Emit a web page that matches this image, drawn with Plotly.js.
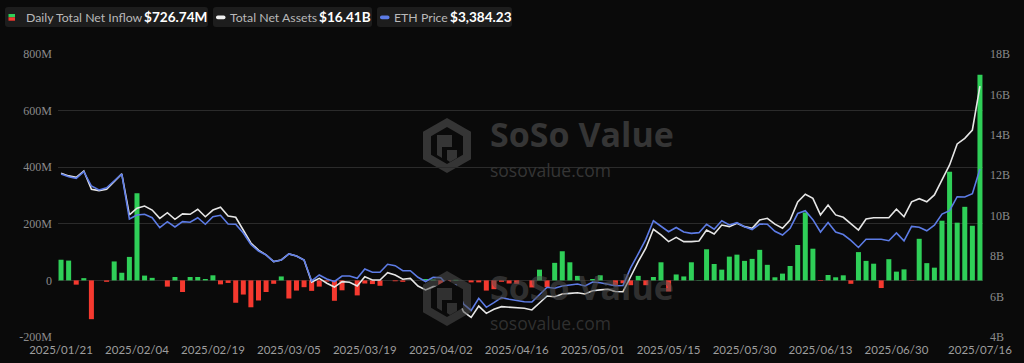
<!DOCTYPE html>
<html><head><meta charset="utf-8">
<script src="https://cdn.plot.ly/plotly-3.0.1.min.js"></script>
<style>html,body{margin:0;padding:0;background:#0a0a0a;}#chart{width:1024px;height:363px;}</style>
</head><body><div id="chart"></div>
<script>
const dates = [
 '2025/01/21','2025/01/22','2025/01/23','2025/01/24','2025/01/27','2025/01/28','2025/01/29','2025/01/30','2025/01/31',
 '2025/02/03','2025/02/04','2025/02/05','2025/02/06','2025/02/07','2025/02/10','2025/02/11','2025/02/12','2025/02/13','2025/02/14',
 '2025/02/18','2025/02/19','2025/02/20','2025/02/21','2025/02/24','2025/02/25','2025/02/26','2025/02/27','2025/02/28',
 '2025/03/03','2025/03/04','2025/03/05','2025/03/06','2025/03/07','2025/03/10','2025/03/11','2025/03/12','2025/03/13','2025/03/14',
 '2025/03/17','2025/03/18','2025/03/19','2025/03/20','2025/03/21','2025/03/24','2025/03/25','2025/03/26','2025/03/27','2025/03/28','2025/03/31',
 '2025/04/01','2025/04/02','2025/04/03','2025/04/04','2025/04/07','2025/04/08','2025/04/09','2025/04/10','2025/04/11',
 '2025/04/14','2025/04/15','2025/04/16','2025/04/17','2025/04/21','2025/04/22','2025/04/23','2025/04/24','2025/04/25',
 '2025/04/28','2025/04/29','2025/04/30','2025/05/01','2025/05/02','2025/05/05','2025/05/06','2025/05/07','2025/05/08','2025/05/09',
 '2025/05/12','2025/05/13','2025/05/14','2025/05/15','2025/05/16','2025/05/19','2025/05/20','2025/05/21','2025/05/22','2025/05/23',
 '2025/05/27','2025/05/28','2025/05/29','2025/05/30','2025/06/02','2025/06/03','2025/06/04','2025/06/05','2025/06/06',
 '2025/06/09','2025/06/10','2025/06/11','2025/06/12','2025/06/13','2025/06/16','2025/06/17','2025/06/18','2025/06/20',
 '2025/06/23','2025/06/24','2025/06/25','2025/06/26','2025/06/27','2025/06/30','2025/07/01','2025/07/02','2025/07/03',
 '2025/07/07','2025/07/08','2025/07/09','2025/07/10','2025/07/11','2025/07/14','2025/07/15','2025/07/16'
];
// Daily total net inflow, million USD
const netInflow = [
 73,70,-15,8,-137,0,-5,67,27,83,
 308,17,9,0,-22,12,-41,12,12,5,
 18,-14,-9,-79,-50,-95,-71,-41,-12,14,
 -64,-36,-24,-37,-22,-4,-72,-35,0,-53,
 -11,-13,-19,0,-3,-5,0,0,5,3,
 -51,-4,2,0,-7,-7,-36,-31,-5,-11,
 -12,0,-25,38,-24,62,103,64,16,0,
 5,18,0,-20,-10,-17,16,-17,12,64,
 -39,21,14,64,1,110,58,38,84,91,
 69,76,108,55,11,24,51,125,240,112,
 -2,19,11,18,-12,100,69,59,-27,75,
 31,39,-1,147,61,45,211,384,204,260,
 193,726.74
];
// Total net assets, billion USD
const totalNetAssets = [
 12.10,11.97,11.90,12.21,11.31,11.24,11.31,11.68,12.07,10.04,
 10.37,10.48,10.28,9.87,10.15,9.82,10.09,10.07,10.32,9.95,
 10.28,10.42,9.99,9.92,9.29,8.65,8.30,8.06,7.73,7.81,
 8.11,8.01,7.81,6.72,6.90,6.66,6.47,6.74,6.71,6.52,
 6.98,6.82,6.82,7.18,7.07,6.86,6.90,6.52,6.33,6.49,
 6.49,6.16,6.08,5.25,4.97,5.53,5.17,5.37,5.50,5.47,
 5.42,5.42,5.34,5.67,6.03,5.99,6.13,6.16,6.19,6.13,
 6.29,6.33,6.36,6.25,6.24,6.98,7.73,8.39,9.33,9.05,
 8.72,8.93,8.72,8.72,8.75,9.29,9.10,9.54,9.46,9.63,
 9.46,9.38,9.79,9.87,9.58,9.38,9.79,10.68,11.06,10.86,
 10.04,10.53,10.04,9.92,9.59,9.29,9.84,9.90,9.90,9.90,
 10.32,9.95,10.69,10.84,10.69,11.03,11.77,12.51,13.55,13.83,
 14.24,16.41
];
// ETH price, USD
const ethPrice = [
 3316,3280,3258,3347,3153,3099,3130,3225,3316,2705,
 2760,2769,2723,2587,2669,2597,2669,2661,2723,2634,
 2737,2756,2638,2634,2516,2359,2271,2217,2126,2149,
 2231,2203,2149,1864,1946,1891,1857,1932,1932,1901,
 2027,1982,1982,2091,2072,2004,2004,1914,1857,1914,
 1909,1796,1810,1552,1464,1629,1507,1570,1638,1616,
 1597,1583,1579,1674,1779,1765,1796,1810,1823,1796,
 1851,1841,1823,1799,1803,2041,2231,2430,2682,2611,
 2533,2590,2529,2511,2520,2634,2567,2681,2624,2655,
 2601,2563,2638,2634,2539,2488,2579,2780,2818,2696,
 2529,2658,2529,2495,2415,2319,2431,2431,2431,2411,
 2516,2410,2605,2593,2545,2621,2773,2818,3008,3005,
 3049,3384.23
];
const xTickLabels = ['2025/01/21','2025/02/04','2025/02/19','2025/03/05','2025/03/19','2025/04/02','2025/04/16','2025/05/01','2025/05/15','2025/05/30','2025/06/13','2025/06/30','2025/07/16'];
const leftTickVals = [-200,0,200,400,600,800];
const leftTickText = ['-200M','0','200M','400M','600M','800M'];
const rightTickVals = [4,6,8,10,12,14,16,18];
const rightTickText = ['4B','6B','8B','10B','12B','14B','16B','18B'];
const legendLabels = ['Daily Total Net Inflow','Total Net Assets','ETH Price'];
const legendValues = ['$726.74M','$16.41B','$3,384.23'];

const GREEN='#2fcf58', RED='#f5392f', WHITE='#e6e6e6', BLUE='#5d7ce6';
const W=1024,H=363,ML=58,MR=41,MT=54,MB=26;
const PW=W-ML-MR, PH=H-MT-MB;
const px=x=>(x-ML)/PW, py=y=>(H-MB-y)/PH;
const pt=(x,y)=>px(x).toFixed(5)+','+py(y).toFixed(5);
function rrect(x0,y0,x1,y1,r){
  return 'M'+pt(x0+r,y0)+' L'+pt(x1-r,y0)+' Q'+pt(x1,y0)+' '+pt(x1,y0+r)+' L'+pt(x1,y1-r)+' Q'+pt(x1,y1)+' '+pt(x1-r,y1)+
   ' L'+pt(x0+r,y1)+' Q'+pt(x0,y1)+' '+pt(x0,y1-r)+' L'+pt(x0,y0+r)+' Q'+pt(x0,y0)+' '+pt(x0+r,y0)+' Z';
}
function hexPath(cx,cy,rw,rh){
  return 'M'+pt(cx,cy-rh)+' L'+pt(cx+rw,cy-rh/2)+' L'+pt(cx+rw,cy+rh/2)+' L'+pt(cx,cy+rh)+' L'+pt(cx-rw,cy+rh/2)+' L'+pt(cx-rw,cy-rh/2)+' Z';
}

const shapes=[];
const annotations=[];
// legend boxes
const boxes=[[5,208],[213,372],[377,512]];
boxes.forEach(b=>shapes.push({type:'path',xref:'paper',yref:'paper',path:rrect(b[0],7,b[1],27,3),fillcolor:'#1d1d1d',line:{width:0},layer:'above'}));
shapes.push({type:'rect',xref:'paper',yref:'paper',x0:px(8.5),x1:px(15),y0:py(14),y1:py(17.3),fillcolor:GREEN,line:{width:0}});
shapes.push({type:'rect',xref:'paper',yref:'paper',x0:px(8.5),x1:px(15),y0:py(17.3),y1:py(20.7),fillcolor:RED,line:{width:0}});
shapes.push({type:'path',xref:'paper',yref:'paper',path:rrect(216,15.5,225.5,19.3,1.8),fillcolor:'#f0f0f0',line:{width:0}});
shapes.push({type:'path',xref:'paper',yref:'paper',path:rrect(380,15.5,389.5,19.3,1.8),fillcolor:BLUE,line:{width:0}});
const labX=[25,229,393], valX=[143,318,449];
for(let i=0;i<3;i++){
  annotations.push({xref:'paper',yref:'paper',x:px(labX[i]-1),y:py(17.5),xanchor:'left',yanchor:'middle',showarrow:false,
    text:legendLabels[i],font:{family:'Lato',size:12.3,color:'#b9b9b9'}});
  annotations.push({xref:'paper',yref:'paper',x:px(valX[i]-1),y:py(17.5),xanchor:'left',yanchor:'middle',showarrow:false,
    text:'<b>'+legendValues[i]+'</b>',font:{family:'Lato',size:13.6,color:'#ffffff'}});
}
// watermarks
function watermark(dy,col,layer){
  shapes.push({type:'path',xref:'paper',yref:'paper',path:hexPath(447,145.5+dy,24,27.5),fillcolor:col,line:{width:0},layer:layer});
  shapes.push({type:'path',xref:'paper',yref:'paper',path:hexPath(447,145.5+dy,16,18.5),fillcolor:'#0a0a0a',line:{width:0},layer:layer});
  shapes.push({type:'path',xref:'paper',yref:'paper',path:'M'+pt(437,135+dy)+' L'+pt(452,135+dy)+' L'+pt(452,147+dy)+' L'+pt(442,147+dy)+' L'+pt(442,158+dy)+' L'+pt(437,155+dy)+' Z',fillcolor:col,line:{width:0},layer:layer});
  shapes.push({type:'path',xref:'paper',yref:'paper',path:'M'+pt(447,150+dy)+' L'+pt(457,150+dy)+' L'+pt(457,158+dy)+' L'+pt(450,162+dy)+' L'+pt(447,160+dy)+' Z',fillcolor:col,line:{width:0},layer:layer});
  annotations.push({xref:'paper',yref:'paper',x:px(489),y:py(158+dy),xanchor:'left',yanchor:'bottom',showarrow:false,borderpad:0,
    text:'<b>SoSo Value</b>',font:{family:'Open Sans',size:34,color:col}});
  annotations.push({xref:'paper',yref:'paper',x:px(489),y:py(157+dy),xanchor:'left',yanchor:'top',showarrow:false,borderpad:0,
    text:'sosovalue.com',font:{family:'Open Sans',size:17.5,color:col}});
}
watermark(0,'#353535','below');
watermark(153,'rgba(80,80,80,0.55)','above');

const traces=[
 {type:'bar',x:dates,y:netInflow,yaxis:'y',marker:{color:netInflow.map(v=>v>=0?GREEN:RED),line:{width:0}},hoverinfo:'x+y',name:legendLabels[0]},
 {type:'scatter',mode:'lines',x:dates,y:totalNetAssets,yaxis:'y2',line:{color:WHITE,width:1.6},name:legendLabels[1]},
 {type:'scatter',mode:'lines',x:dates,y:ethPrice,yaxis:'y3',line:{color:BLUE,width:1.6},name:legendLabels[2]}
];
const layout={
 width:W,height:H,margin:{l:ML,r:MR,t:MT,b:MB,pad:0},
 paper_bgcolor:'#0a0a0a',plot_bgcolor:'#0a0a0a',showlegend:false,bargap:0.34,
 xaxis:{type:'category',range:[-0.4,121.4],tickmode:'array',tickvals:xTickLabels,ticktext:xTickLabels,showgrid:false,showline:false,zeroline:false,ticks:'',
   tickfont:{family:'Lato',size:11.5,color:'#9d9d9d'},ticklabelstandoff:4},
 yaxis:{range:[-200,800],tickmode:'array',tickvals:leftTickVals,ticktext:leftTickText,showgrid:true,gridcolor:'#2b2b2b',gridwidth:1,zeroline:false,showline:false,ticks:'',
   tickfont:{family:'Liberation Serif',size:12,color:'#8a8a8a'},ticklabelstandoff:5},
 yaxis2:{overlaying:'y',side:'right',range:[4,18],tickmode:'array',tickvals:rightTickVals,ticktext:rightTickText,showgrid:false,zeroline:false,showline:false,ticks:'',
   tickfont:{family:'Liberation Serif',size:12,color:'#8a8a8a'},ticklabelstandoff:6},
 yaxis3:{overlaying:'y',range:[1104,4945],visible:false,showgrid:false,zeroline:false},
 shapes:shapes,annotations:annotations
};
Plotly.newPlot('chart',traces,layout,{displayModeBar:false,staticPlot:true});
</script></body></html>
